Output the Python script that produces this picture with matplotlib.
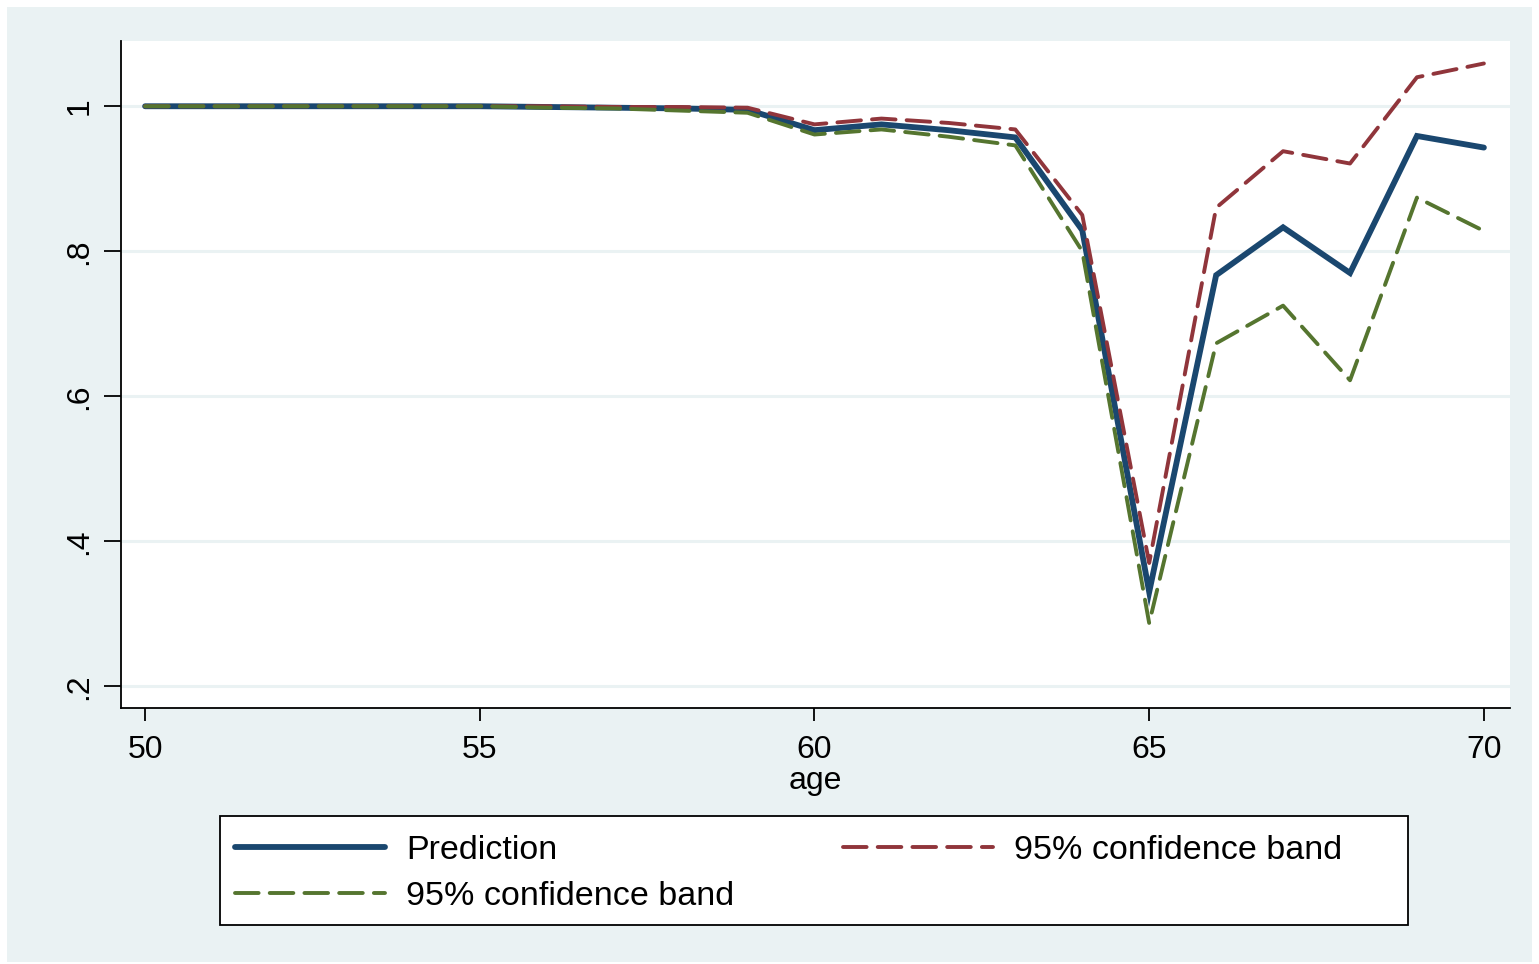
import matplotlib
matplotlib.use("Agg")
import matplotlib.pyplot as plt
from matplotlib.patches import Rectangle

plt.rcParams['font.family'] = ['Liberation Sans', 'DejaVu Sans']
plt.rcParams['lines.scale_dashes'] = False

# predicted probability by age with 95% band
age = [50, 51, 52, 53, 54, 55, 56, 57, 58, 59, 60, 61, 62, 63, 64, 65, 66, 67, 68, 69, 70]
pred = [1.0, 1.0, 1.0, 1.0, 1.0, 1.0, 0.999, 0.998, 0.997, 0.995, 0.967, 0.975, 0.967, 0.957,
        0.829, 0.330, 0.767, 0.833, 0.770, 0.959, 0.943]
upper = [1.0, 1.0, 1.0, 1.0, 1.0, 1.0, 1.0, 0.999, 0.999, 0.998, 0.975, 0.983, 0.977, 0.968,
         0.850, 0.370, 0.860, 0.938, 0.921, 1.040, 1.059]
lower = [1.0, 1.0, 1.0, 1.0, 1.0, 1.0, 0.998, 0.997, 0.994, 0.991, 0.961, 0.968, 0.958, 0.946,
         0.800, 0.287, 0.673, 0.725, 0.622, 0.874, 0.828]

yticks = [0.2, 0.4, 0.6, 0.8, 1.0]
ylabels = ['.2', '.4', '.6', '.8', '1']
xticks = [50, 55, 60, 65, 70]

W, H = 1539, 964
fig = plt.figure(figsize=(W / 100, H / 100), dpi=100, facecolor='white')
fig.patches.append(Rectangle((7 / W, 2 / H), (W - 14) / W, (H - 9) / H,
                             transform=fig.transFigure, facecolor='#EAF2F3',
                             edgecolor='none', zorder=-10))

ax = fig.add_axes([121 / W, (H - 708) / H, (1510 - 121) / W, (708 - 41) / H])
ax.set_facecolor('white')

navy = '#1A476F'
maroon = '#90353B'
green = '#55752F'

l_pred, = ax.plot(age, pred, color=navy, lw=4.2, solid_capstyle='round',
                  solid_joinstyle='miter', zorder=3, label='Prediction')
l_up, = ax.plot(age, upper, color=maroon, lw=2.8, dashes=(17, 8),
                dash_capstyle='round', zorder=4, label='95% confidence band')
l_lo, = ax.plot(age, lower, color=green, lw=2.8, dashes=(17, 8),
                dash_capstyle='round', zorder=5, label='95% confidence band')

ax.set_xlim(49.64, 70.39)
ax.set_ylim(0.17, 1.09)
ax.set_xticks(xticks)
ax.set_yticks(yticks)
ax.set_yticklabels(ylabels, rotation=90, va='center')
ax.tick_params(axis='both', labelsize=23, width=1.3, color='black')
ax.tick_params(axis='x', length=9.5, pad=10)
ax.tick_params(axis='y', length=12, pad=7)
ax.grid(axis='y', color='#EAF2F3', lw=2.2)
ax.set_axisbelow(True)
for s in ['top', 'right']:
    ax.spines[s].set_visible(False)
for s in ['left', 'bottom']:
    ax.spines[s].set_linewidth(1.3)
ax.set_xlabel('age', fontsize=23, labelpad=1)

# legend box, then the entries inside it
fig.patches.append(Rectangle((220 / W, (H - 925) / H), (1408 - 220) / W, (925 - 816) / H,
                             transform=fig.transFigure, facecolor='white',
                             edgecolor='black', lw=1.3, zorder=1))
leg = fig.legend(handles=[l_pred, l_lo, l_up], ncol=2, frameon=False,
                 bbox_to_anchor=(235 / W, (H - 835) / H), loc='upper left',
                 borderpad=0, borderaxespad=0,
                 fontsize=24.5, handlelength=4.4, handletextpad=0.62,
                 labelspacing=0.44, columnspacing=3.2)

fig.savefig('out.png', dpi=100, facecolor='white')
